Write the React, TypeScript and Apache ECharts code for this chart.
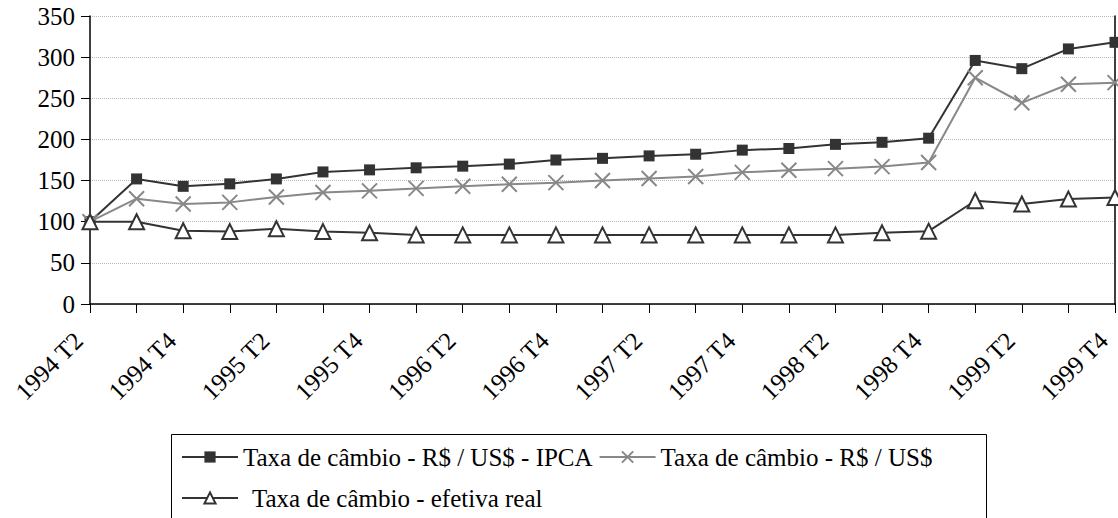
import React, { useEffect, useRef } from "react";
import * as echarts from "echarts";

const categories = [
  "1994 T2", "1994 T3", "1994 T4",
  "1995 T1", "1995 T2", "1995 T3", "1995 T4",
  "1996 T1", "1996 T2", "1996 T3", "1996 T4",
  "1997 T1", "1997 T2", "1997 T3", "1997 T4",
  "1998 T1", "1998 T2", "1998 T3", "1998 T4",
  "1999 T1", "1999 T2", "1999 T3", "1999 T4",
];

const seriesNames = [
  "Taxa de câmbio - R$ / US$ - IPCA",
  "Taxa de câmbio - R$ / US$",
  "Taxa de câmbio - efetiva real",
];

const ipcaValues = [
  100, 152, 143, 146, 152, 160.5, 163, 165.5, 167.5, 170, 175, 177, 180, 182,
  187, 189, 194, 196.5, 201.5, 296, 286, 310, 318,
];

const nominalValues = [
  100, 128, 121.5, 123.5, 130, 135.5, 137.5, 140.5, 143, 145.5, 147.5, 150,
  152.5, 155, 160, 162.5, 164.5, 167, 172, 275, 244.5, 267, 269,
];

const realValues = [
  100, 100, 89, 88, 91.5, 88, 86.5, 84, 84, 84, 84, 84, 84, 84, 84, 84, 84,
  86.5, 88.5, 125.5, 121.5, 127.5, 129.5,
];

const FONT = "Liberation Serif";
const X_PATH = "path://M0,0L10,10M0,10L10,0";

export default function App() {
  const ref = useRef<HTMLDivElement>(null);

  useEffect(() => {
    const chart = echarts.init(ref.current!, null, { renderer: "svg" });
    const legendText = {
      fontFamily: FONT,
      fontSize: 25,
      color: "#000",
      lineHeight: 28,
    };
    chart.setOption({
      animation: false,
      backgroundColor: "#fff",
      textStyle: { fontFamily: FONT },
      grid: { left: 90, top: 16, width: 1025, height: 288, containLabel: false },
      xAxis: {
        type: "category",
        data: categories,
        boundaryGap: false,
        axisLine: { show: true, lineStyle: { color: "#000", width: 1.5 } },
        axisTick: { show: true, interval: 0, length: 9, lineStyle: { color: "#000", width: 1 } },
        axisLabel: {
          interval: 1,
          rotate: 45,
          margin: 21,
          padding: [0, 16, 0, 0],
          fontFamily: FONT,
          fontSize: 25,
          color: "#000",
          hideOverlap: false,
        },
        splitLine: { show: false },
      },
      yAxis: [
        {
          type: "value",
          min: 0,
          max: 350,
          interval: 50,
          axisLine: { show: true, lineStyle: { color: "#000", width: 1.5 } },
          axisTick: { show: true, length: 9, lineStyle: { color: "#000", width: 1 } },
          axisLabel: { margin: 15, fontFamily: FONT, fontSize: 25, color: "#000" },
          splitLine: { show: true, lineStyle: { color: "#b8b8b8", type: "dotted", width: 1 } },
        },
        {
          type: "value",
          position: "right",
          min: 0,
          max: 350,
          interval: 50,
          axisLine: { show: true, lineStyle: { color: "#000", width: 1.5 } },
          axisTick: { show: false },
          axisLabel: { show: false },
          splitLine: { show: false },
        },
      ],
      legend: [
        {
          data: [seriesNames[0], seriesNames[1]],
          left: 181,
          top: 443,
          padding: 0,
          itemWidth: 56,
          itemHeight: 14,
          itemGap: 6,
          selectedMode: false,
          textStyle: legendText,
        },
        {
          data: [seriesNames[2]],
          left: 181,
          top: 484,
          padding: 0,
          itemWidth: 56,
          itemHeight: 14,
          selectedMode: false,
          textStyle: { ...legendText, padding: [0, 0, 0, 9] },
        },
      ],
      graphic: [
        {
          type: "rect",
          shape: { x: 171.5, y: 434.5, width: 815, height: 200 },
          style: { fill: "none", stroke: "#000", lineWidth: 1 },
          z: 0,
          silent: true,
        },
      ],
      series: [
        {
          name: seriesNames[0],
          type: "line",
          data: ipcaValues,
          symbol: "rect",
          symbolSize: 11,
          lineStyle: { color: "#333", width: 2 },
          itemStyle: { color: "#333" },
          z: 3,
        },
        {
          name: seriesNames[1],
          type: "line",
          data: nominalValues,
          symbol: X_PATH,
          symbolSize: 15,
          lineStyle: { color: "#888", width: 2 },
          itemStyle: { color: "#888", borderColor: "#888", borderWidth: 2 },
          z: 4,
        },
        {
          name: seriesNames[2],
          type: "line",
          data: realValues,
          symbol: "triangle",
          symbolSize: 15,
          lineStyle: { color: "#333", width: 2 },
          itemStyle: { color: "#fff", borderColor: "#333", borderWidth: 2 },
          z: 5,
        },
      ],
    });
    return () => chart.dispose();
  }, []);

  return (
    <div
      ref={ref}
      style={{ position: "fixed", left: 0, top: 0, width: 1118, height: 518, background: "#fff" }}
    />
  );
}
